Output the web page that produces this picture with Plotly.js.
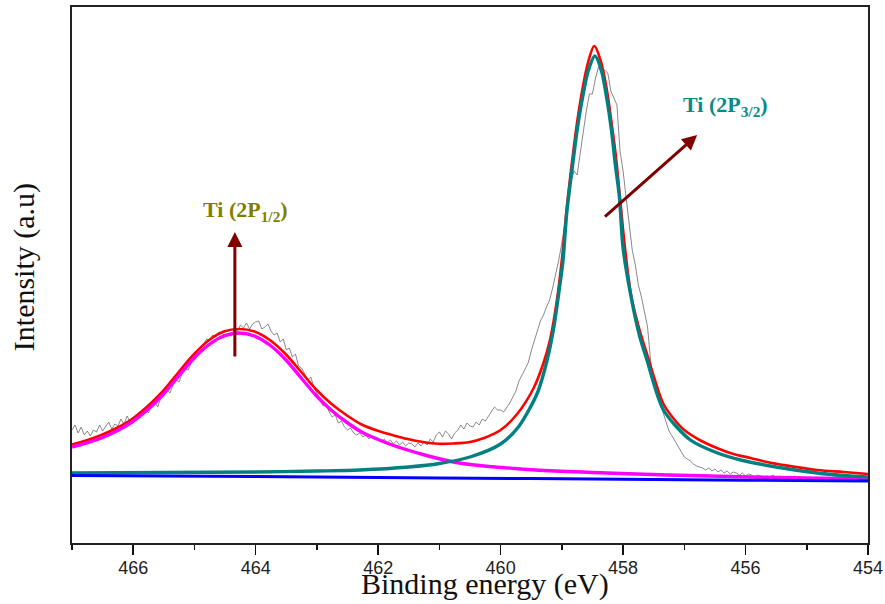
<!DOCTYPE html>
<html><head><meta charset="utf-8">
<script src="https://cdn.plot.ly/plotly-3.0.1.min.js"></script>
<style>html,body{margin:0;padding:0;background:#fff;}#chart{width:885px;height:604px;}</style>
</head><body><div id="chart"></div>
<script>
// Raw spectrum (binding energy in eV, intensity in arbitrary units)
const rawX = [467,466.95,466.9,466.85,466.8,466.75,466.7,466.65,466.6,466.55,
466.5,466.45,466.4,466.35,466.3,466.25,466.2,466.15,466.1,466.05,
466,465.95,465.9,465.85,465.8,465.75,465.7,465.65,465.6,465.55,
465.5,465.45,465.4,465.35,465.3,465.25,465.2,465.15,465.1,465.05,
465,464.95,464.9,464.85,464.8,464.75,464.7,464.65,464.6,464.55,
464.5,464.45,464.4,464.35,464.3,464.25,464.2,464.15,464.1,464.05,
464,463.95,463.9,463.85,463.8,463.75,463.7,463.65,463.6,463.55,
463.5,463.45,463.4,463.35,463.3,463.25,463.2,463.15,463.1,463.05,
463,462.95,462.9,462.85,462.8,462.75,462.7,462.65,462.6,462.55,
462.5,462.45,462.4,462.35,462.3,462.25,462.2,462.15,462.1,462.05,
462,461.95,461.9,461.85,461.8,461.75,461.7,461.65,461.6,461.55,
461.5,461.45,461.4,461.35,461.3,461.25,461.2,461.15,461.1,461.05,
461,460.95,460.9,460.85,460.8,460.75,460.7,460.65,460.6,460.55,
460.5,460.45,460.4,460.35,460.3,460.25,460.2,460.15,460.1,460.05,
460,459.95,459.9,459.85,459.8,459.75,459.7,459.65,459.6,459.55,
459.5,459.45,459.4,459.35,459.3,459.25,459.2,459.15,459.1,459.05,
459,458.95,458.9,458.85,458.8,458.75,458.7,458.65,458.6,458.55,
458.5,458.45,458.4,458.35,458.3,458.25,458.2,458.15,458.1,458.05,
458,457.95,457.9,457.85,457.8,457.75,457.7,457.65,457.6,457.55,
457.5,457.45,457.4,457.35,457.3,457.25,457.2,457.15,457.1,457.05,
457,456.95,456.9,456.85,456.8,456.75,456.7,456.65,456.6,456.55,
456.5,456.45,456.4,456.35,456.3,456.25,456.2,456.15,456.1,456.05,
456,455.95,455.9,455.85,455.8,455.75,455.7,455.65,455.6,455.55,
455.5,455.45,455.4,455.35,455.3,455.25,455.2,455.15,455.1,455.05,
455,454.95,454.9,454.85,454.8,454.75,454.7,454.65,454.6,454.55,
454.5,454.45,454.4,454.35,454.3,454.25,454.2,454.15,454.1,454.05,454];
const rawY = [113,118,110,116,108,112,107,113,111,118,
112,116,121,114,119,117,124,119,127,121,
126,124,131,128,134,130,138,141,136,145,
147,153,150,158,163,161,170,174,173,181,
186,190,196,199,204,203,208,206,211,209,
208,210,207,212,211,218,215,220,214,219,
221,222,214,216,219,212,208,210,201,204,
193,195,186,189,177,175,169,163,166,156,
150,143,137,139,131,126,128,120,122,116,
113,115,110,108,110,106,108,104,107,103,
105,101,104,100,103,99,102,98,101,97,
100,99,96,100,97,101,98,104,101,108,
111,106,112,109,104,110,113,118,114,120,
117,116,121,118,124,122,127,131,136,133,
133,131,135,140,146,152,162,168,174,180,
192,203,212,222,228,236,243,255,268,283,
300,320,345,362,372,368,390,412,432,449,
449,465,476,469,473,470,452,445,438,392,
372,345,318,293,278,258,246,232,216,182,
160,150,140,130,120,112,107,102,96,92,
86,84,82,79,77,76,75,73,75,72,
74,71,73,70,72,69,71,70,68,70,
67,69,68,66,68,67,65,67,66,68,
65,67,66,64,66,65,67,64,66,65,
63,65,64,66,64,63,65,64,62,64,
63,65,63,62,64,63,62,64,63,62,63];

// Fitted envelope (red)
const envX = [467,466.77,466.52,466.27,466.02,465.77,465.52,465.27,465.02,464.77,464.52,464.27,464.02,463.77,463.52,463.27,463.02,462.77,462.52,462.27,462.02,461.77,461.52,461.27,461.02,460.77,460.5,460.27,460,459.73,459.46,459.3,459.19,459.08,459,458.92,458.82,458.75,458.66,458.57,458.47,458.37,458.27,458.19,458.12,458.05,457.96,457.86,457.73,457.61,457.48,457.34,457.17,457,456.75,456.47,456.2,455.92,455.65,455.38,454.83,454.4,454];
const envY = [98.5,102.5,108,115,124,136.5,151.5,170,188,202.5,211.5,214,211.5,203,189.5,172,154,139.5,128,118.5,112.5,108,104,101,99.2,99.5,101,105,113,129,155,180,204,243,283,335,388,421,455,481,497,483,455,421,388,345,290,245,213,189,163,139,124,113,103,95,89,85,81,78,73,71,69];

// Ti 2p1/2 component (magenta)
const p12X = [467,466.77,466.52,466.27,466.02,465.77,465.52,465.27,465.02,464.77,464.52,464.27,464.02,463.77,463.52,463.27,463.02,462.77,462.52,462.27,462.02,461.77,461.52,461.27,461.02,460.77,460.27,459.77,459.27,458.27,457.27,456.27,455.27,454];
const p12Y = [96,100,105,112,121,133,148,166,184,198,207,210,207,198,184,166,148,133,121,111,104,98,93,88.5,84.5,81,77,74.5,72.5,70,68,66.5,65.2,64];

// Ti 2p3/2 component (teal)
const p32X = [467,465.5,464,463,462.3,461.5,461,460.5,460,459.71,459.4,459.24,459.13,459.05,458.98,458.92,458.82,458.75,458.66,458.57,458.46,458.36,458.27,458.19,458.13,458.06,458,457.85,457.73,457.61,457.34,456.9,456.5,456.08,455.5,454.83,454.4,454];
const p32Y = [70,70.5,71,72,73,76,79.5,86,99,116,150,183,216,250,283,330,380,413,446,472,487,474,446,413,380,346,295,240,207,183,133,103,91,83,76,70,67.5,66];

// Background (blue)
const bgX = [467,464,461,458,456,454];
const bgY = [67.5,66.5,65,63.8,62.8,62];

const majorTicks = [466,464,462,460,458,456,454];
const majorText = ['466','464','462','460','458','456','454'];
const minorTicks = [467,465,463,461,459,457,455];

const traces = [
  {x: rawX, y: rawY, mode:'lines', line:{color:'#6a6a6a', width:0.8}, hoverinfo:'skip'},
  {x: envX, y: envY, mode:'lines', line:{color:'#ff0000', width:2.6, shape:'spline', smoothing:1}},
  {x: p12X, y: p12Y, mode:'lines', line:{color:'#ff00ff', width:3.4, shape:'spline', smoothing:1}},
  {x: p32X, y: p32Y, mode:'lines', line:{color:'#008080', width:3.4, shape:'spline', smoothing:0.8}},
  {x: bgX, y: bgY, mode:'lines', line:{color:'#0000ff', width:3, shape:'spline', smoothing:0.6}}
];

const layout = {
  width:885, height:604,
  margin:{l:72, r:17, t:7, b:61},
  paper_bgcolor:'#fff', plot_bgcolor:'#fff',
  showlegend:false,
  xaxis:{
    range:[467,454], tickmode:'array', tickvals:majorTicks, ticktext:majorText,
    ticks:'outside', ticklen:10, tickwidth:1.5, tickcolor:'#111',
    ticklabelstandoff:-3,
    minor:{tickmode:'array', tickvals:minorTicks, ticks:'outside', ticklen:5, tickwidth:1.5, tickcolor:'#111'},
    showline:true, linewidth:2, linecolor:'#222', mirror:true,
    showgrid:false, zeroline:false,
    tickfont:{family:'Liberation Sans, Arial, sans-serif', size:18, color:'#222'}
  },
  yaxis:{
    range:[0,536], showticklabels:false, ticks:'',
    showline:true, linewidth:2, linecolor:'#222', mirror:true,
    showgrid:false, zeroline:false
  },
  annotations:[
    {xref:'paper', yref:'paper', x:0.519, y:-0.077, xanchor:'center', yanchor:'middle', showarrow:false,
     text:'Binding energy (eV)', font:{family:'Liberation Serif, serif', size:30, color:'#111'}},
    {xref:'paper', yref:'paper', x:-0.06, y:0.515, xanchor:'center', yanchor:'middle', showarrow:false, textangle:-90,
     text:'Intensity (a.u)', font:{family:'Liberation Serif, serif', size:30, color:'#111'}},
    {xref:'x', yref:'y', x:464.16, y:332, showarrow:false, xanchor:'center', yanchor:'middle',
     text:'<b>Ti (2P<sub>1/2</sub>)</b>', font:{family:'Liberation Serif, serif', size:22, color:'#808000'}},
    {xref:'x', yref:'y', x:456.33, y:437, showarrow:false, xanchor:'center', yanchor:'middle',
     text:'<b>Ti (2P<sub>3/2</sub>)</b>', font:{family:'Liberation Serif, serif', size:22, color:'#0a8a86'}},
    {xref:'x', yref:'y', x:464.34, y:311, axref:'x', ayref:'y', ax:464.34, ay:185, text:'',
     showarrow:true, arrowhead:2, arrowsize:1, arrowwidth:3, arrowcolor:'#800000', standoff:0, startstandoff:0},
    {xref:'x', yref:'y', x:456.79, y:408, axref:'x', ayref:'y', ax:458.32, ay:325, text:'',
     showarrow:true, arrowhead:2, arrowsize:1, arrowwidth:3, arrowcolor:'#800000', standoff:0, startstandoff:0}
  ]
};

Plotly.newPlot('chart', traces, layout, {displayModeBar:false, staticPlot:true});
</script>
</body></html>
